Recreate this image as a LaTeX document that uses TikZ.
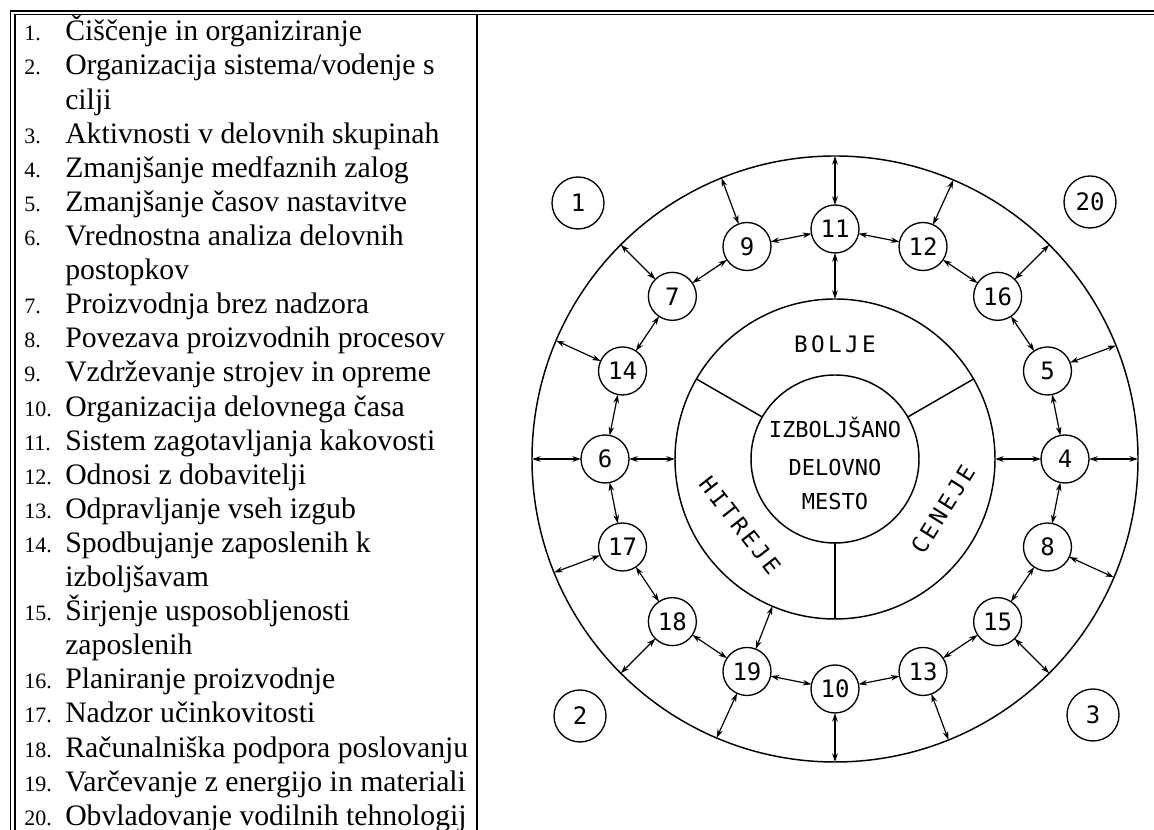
\documentclass[tikz,border=0pt]{standalone}
\usepackage{fontspec}
\setmainfont{Liberation Serif}
\newfontfamily\plotfont{DejaVu Sans Mono}
\newfontfamily\ringfont[LetterSpace=15]{DejaVu Sans Mono}
\usetikzlibrary{arrows.meta}

\begin{document}
\begin{tikzpicture}[x=0.75pt,y=0.75pt,
  rule/.style={line width=1pt},
  ring/.style={draw, circle, line width=1.1pt, inner sep=0pt, outer sep=0pt},
  num/.style={draw, circle, line width=1pt, minimum size=36pt, inner sep=0pt, outer sep=0pt,
    font=\plotfont\fontsize{18}{18}\selectfont},
  corner/.style={num, minimum size=39pt},
  link/.style={line width=0.9pt, {Stealth[length=6.5pt,width=4.2pt]}-{Stealth[length=6.5pt,width=4.2pt]}},
  item/.style={anchor=base west, inner sep=0pt, font=\fontsize{22.3}{22.3}\selectfont},
  idx/.style={anchor=base west, inner sep=0pt, font=\fontsize{16.5}{16.5}\selectfont},
  centertext/.style={inner sep=0pt, font=\plotfont\fontsize{16.5}{16.5}\selectfont},
  ringtext/.style={inner sep=0pt, font=\ringfont\fontsize{17}{17}\selectfont},
]
\useasboundingbox (0,0) rectangle (1154,830);

% frame: double rules on top and left, single divider between list and diagram
\draw[rule] (10.5,0) -- (10.5,819) -- (1154,819);
\draw[rule] (15,0) -- (15,815.5) -- (1154,815.5);
\draw[rule] (477,815.5) -- (477,0);

% numbered list
\node[idx] (i1)  at (24,789)   {1.};  \node[item] (t1)  at (65,789)   {Čiščenje in organiziranje};
\node[idx] (i2)  at (24,755)   {2.};  \node[item] (t2)  at (65,755)   {Organizacija sistema/vodenje s};
                                      \node[item] (t2b) at (65,720.8) {cilji};
\node[idx] (i3)  at (24,686.7) {3.};  \node[item] (t3)  at (65,686.7) {Aktivnosti v delovnih skupinah};
\node[idx] (i4)  at (24,652.6) {4.};  \node[item] (t4)  at (65,652.6) {Zmanjšanje medfaznih zalog};
\node[idx] (i5)  at (24,618.5) {5.};  \node[item] (t5)  at (65,618.5) {Zmanjšanje časov nastavitve};
\node[idx] (i6)  at (24,584.4) {6.};  \node[item] (t6)  at (65,584.4) {Vrednostna analiza delovnih};
                                      \node[item] (t6b) at (65,550.3) {postopkov};
\node[idx] (i7)  at (24,516.2) {7.};  \node[item] (t7)  at (65,516.2) {Proizvodnja brez nadzora};
\node[idx] (i8)  at (24,482.1) {8.};  \node[item] (t8)  at (65,482.1) {Povezava proizvodnih procesov};
\node[idx] (i9)  at (24,448)   {9.};  \node[item] (t9)  at (65,448)   {Vzdrževanje strojev in opreme};
\node[idx] (i10) at (24,413.9) {10.}; \node[item] (t10) at (65,413.9) {Organizacija delovnega časa};
\node[idx] (i11) at (24,379.8) {11.}; \node[item] (t11) at (65,379.8) {Sistem zagotavljanja kakovosti};
\node[idx] (i12) at (24,345.7) {12.}; \node[item] (t12) at (65,345.7) {Odnosi z dobavitelji};
\node[idx] (i13) at (24,311.6) {13.}; \node[item] (t13) at (65,311.6) {Odpravljanje vseh izgub};
\node[idx] (i14) at (24,277.5) {14.}; \node[item] (t14) at (65,277.5) {Spodbujanje zaposlenih k};
                                      \node[item] (t14b) at (65,243.4) {izboljšavam};
\node[idx] (i15) at (24,209.3) {15.}; \node[item] (t15) at (65,209.3) {Širjenje usposobljenosti};
                                      \node[item] (t15b) at (65,175.2) {zaposlenih};
\node[idx] (i16) at (24,141.1) {16.}; \node[item] (t16) at (65,141.1) {Planiranje proizvodnje};
\node[idx] (i17) at (24,107)   {17.}; \node[item] (t17) at (65,107)   {Nadzor učinkovitosti};
\node[idx] (i18) at (24,72.9)  {18.}; \node[item] (t18) at (65,72.9)  {Računalniška podpora poslovanju};
\node[idx] (i19) at (24,38.8)  {19.}; \node[item] (t19) at (65,38.8)  {Varčevanje z energijo in materiali};
\node[idx] (i20) at (24,4.7)   {20.}; \node[item] (t20) at (65,4.7)   {Obvladovanje vodilnih tehnologij};

% concentric diagram
\begin{scope}[shift={(835,371)}]
  \node[ring, minimum size=454.5pt] (outer) at (0,0) {};
  \node[ring, minimum size=240pt]   (mid)   at (0,0) {};
  \node[ring, minimum size=126pt]   (core)  at (0,0) {};

  % sector dividers of the middle ring
  \foreach \a in {150,30,270} \draw[line width=1.1pt] (core.\a) -- (mid.\a);

  \node[ringtext] (better) at (0,115) {BOLJE};
  \node[ringtext, rotate=-52] (faster) at (215:116) {HITREJE};
  \node[ringtext, rotate=58] (cheaper) at (-25:119) {CENEJE};

  \node[centertext] (c1) at (0,32)  {IZBOLJŠANO};
  \node[centertext] (c2) at (0,-9)  {DELOVNO};
  \node[centertext] (c3) at (0,-43) {MESTO};

  % the sixteen measures on the ring
  \foreach \a/\n in {90/11, 67.5/12, 45/16, 22.5/5, 0/4, 337.5/8, 315/15, 292.5/13,
                     270/10, 247.5/19, 225/18, 202.5/17, 180/6, 157.5/14, 135/7, 112.5/9}
    \node[num] (n\n) at (\a:230) {\n};

  % links between neighbours
  \foreach \p/\q in {11/12, 12/16, 16/5, 5/4, 4/8, 8/15, 15/13, 13/10,
                     10/19, 19/18, 18/17, 17/6, 6/14, 14/7, 7/9, 9/11}
    \draw[link] (n\p) -- (n\q);

  % links out to the outer circle
  \foreach \a/\n in {90/11, 67.5/12, 45/16, 22.5/5, 0/4, 337.5/8, 315/15, 292.5/13,
                     270/10, 247.5/19, 225/18, 202.5/17, 180/6, 157.5/14, 135/7, 112.5/9}
    \draw[link] (n\n) -- (outer.\a);

  % links in to the middle ring
  \foreach \a/\n in {90/11, 0/4, 180/6, 247.5/19}
    \draw[link] (n\n) -- (mid.\a);

  % the four remaining measures in the corners
  \node[corner] (n1)  at (-257,256)  {1};
  \node[corner] (n20) at (255,257)   {20};
  \node[corner] (n2)  at (-255,-257) {2};
  \node[corner] (n3)  at (258,-256)  {3};
\end{scope}
\end{tikzpicture}
\end{document}
